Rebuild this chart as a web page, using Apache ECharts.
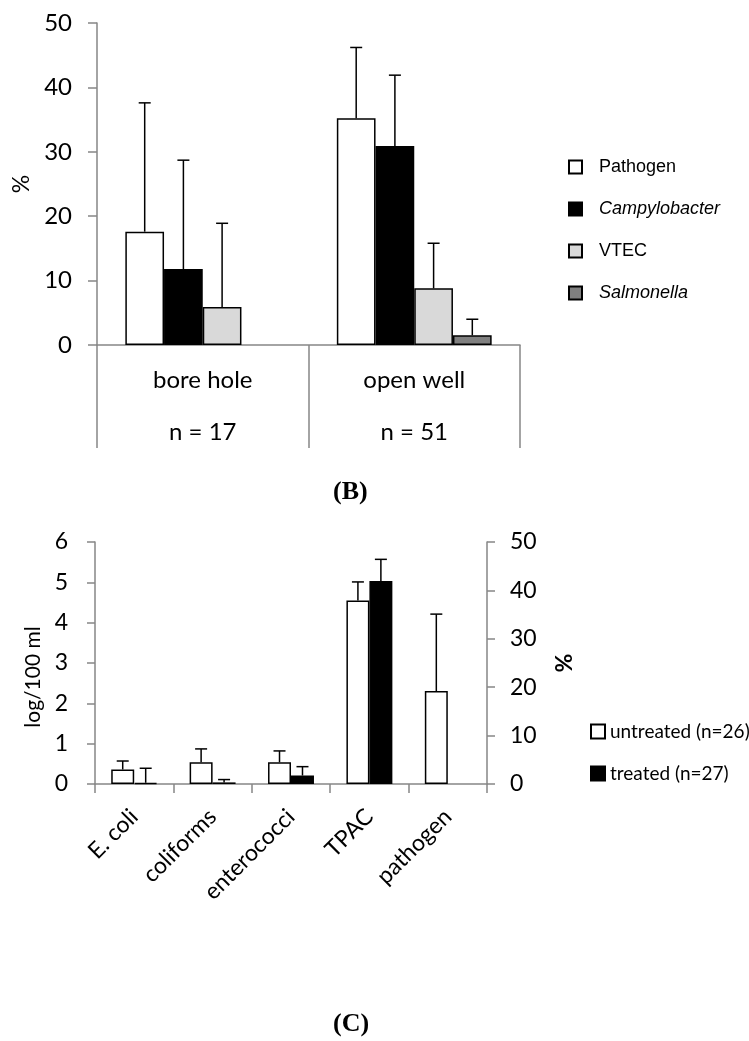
<!DOCTYPE html>
<html>
<head>
<meta charset="utf-8">
<script src="https://cdn.jsdelivr.net/npm/echarts@6/dist/echarts.min.js"></script>
<style>
html,body{margin:0;padding:0;background:#fff;}
#c{width:749px;height:1041px;}
</style>
</head>
<body>
<div id="c"></div>
<script>
// ---- Panel B data ----
const srcCategories = ['bore hole', 'open well'];
const srcSampleSizes = ['n = 17', 'n = 51'];
const pathogenPct = [17.6, 35.2];
const pathogenUpper = [37.6, 46.2];
const campyPct = [11.8, 30.9];
const campyUpper = [28.7, 41.9];
const vtecPct = [5.9, 8.8];
const vtecUpper = [18.9, 15.8];
const salmPct = [null, 1.5];
const salmUpper = [null, 4.0];

// ---- Panel C data ----
const indCategories = ['E. coli', 'coliforms', 'enterococci', 'TPAC', 'pathogen'];
const untreatedLog = [0.36, 0.54, 0.54, 4.55, null];
const untreatedUpper = [0.57, 0.87, 0.82, 5.01, null];
const treatedLog = [0.03, 0.04, 0.21, 5.03, null];
const treatedUpper = [0.39, 0.11, 0.43, 5.57, null];
const pathogenUntreatedPct = [null, null, null, null, 19.2];
const pathogenUntreatedUpper = [null, null, null, null, 35.1];

const AX = '#868686';
const SANS = 'Lato';
const TOP_FRAC = 0.183;
const BOT_FRAC = 0.293;

function errSeries(xi, yi, vals, ups, slot, nSlots, frac) {
  const data = [];
  vals.forEach((v, i) => { if (v != null && ups[i] != null) data.push([i, v, ups[i]]); });
  return {
    type: 'custom', xAxisIndex: xi, yAxisIndex: yi, z: 5, silent: true,
    encode: { x: 0, y: [1, 2] },
    data: data,
    renderItem: function (params, api) {
      const i = api.value(0);
      const p0 = api.coord([i, api.value(1)]);
      const p1 = api.coord([i, api.value(2)]);
      const band = api.size([1, 0])[0];
      const x = p0[0] + (slot - (nSlots - 1) / 2) * band * frac;
      const st = { stroke: '#000', lineWidth: 1.5 };
      return {
        type: 'group', children: [
          { type: 'line', shape: { x1: x, y1: p0[1], x2: x, y2: p1[1] }, style: st },
          { type: 'line', shape: { x1: x - 6, y1: p1[1], x2: x + 6, y2: p1[1] }, style: st }
        ]
      };
    }
  };
}

function barS(name, xi, yi, data, color, frac) {
  return {
    name: name, type: 'bar', xAxisIndex: xi, yAxisIndex: yi, data: data,
    barWidth: (frac * 100) + '%', barGap: '0%',
    itemStyle: { color: color, borderColor: '#000', borderWidth: 1.5 },
    emphasis: { disabled: true }
  };
}

const chart = echarts.init(document.getElementById('c'));
const option = {
  animation: false,
  backgroundColor: '#fff',
  grid: [
    { left: 97, right: 229, top: 23, bottom: 696 },
    { left: 95, right: 262, top: 542, bottom: 257 }
  ],
  xAxis: [
    {
      type: 'category', gridIndex: 0, data: srcCategories.map((c, i) => c + '\n' + srcSampleSizes[i]),
      axisLine: { lineStyle: { color: AX, width: 1.5 } },
      axisTick: { show: true, alignWithLabel: false, interval: 0, length: 103, lineStyle: { color: AX, width: 1.5 } },
      axisLabel: { color: '#000', fontFamily: SANS, fontSize: 24, lineHeight: 52, margin: 9 }
    },
    {
      type: 'category', gridIndex: 1, data: indCategories,
      axisLine: { lineStyle: { color: AX, width: 1.5 } },
      axisTick: { show: true, alignWithLabel: false, interval: 0, length: 9, lineStyle: { color: AX, width: 1.5 } },
      axisLabel: { color: '#000', fontFamily: SANS, fontSize: 23, rotate: 45, margin: 29, interval: 0 }
    },
    {
      type: 'category', gridIndex: 1, data: indCategories, show: false
    }
  ],
  yAxis: [
    {
      type: 'value', gridIndex: 0, min: 0, max: 50, interval: 10,
      name: '%', nameLocation: 'middle', nameGap: 62, nameRotate: 90,
      nameTextStyle: { color: '#000', fontFamily: SANS, fontSize: 23 },
      axisLine: { show: true, lineStyle: { color: AX, width: 1.5 } },
      axisTick: { show: true, length: 9, lineStyle: { color: AX, width: 1.5 } },
      splitLine: { show: false },
      axisLabel: { color: '#000', fontFamily: SANS, fontSize: 24, margin: 25 }
    },
    {
      type: 'value', gridIndex: 1, min: 0, max: 6, interval: 1,
      name: 'log/100 ml', nameLocation: 'middle', nameGap: 50, nameRotate: 90,
      nameTextStyle: { color: '#000', fontFamily: SANS, fontSize: 21, padding: [0, 28, 0, 0] },
      axisLine: { show: true, lineStyle: { color: AX, width: 1.5 } },
      axisTick: { show: true, length: 8, lineStyle: { color: AX, width: 1.5 } },
      splitLine: { show: false },
      axisLabel: { color: '#000', fontFamily: SANS, fontSize: 23, margin: 27 }
    },
    {
      type: 'value', gridIndex: 1, position: 'right', min: 0, max: 50, interval: 10,
      name: '%', nameLocation: 'middle', nameGap: 66, nameRotate: 90,
      nameTextStyle: { color: '#000', fontFamily: SANS, fontSize: 23, fontWeight: 'bold' },
      axisLine: { show: true, lineStyle: { color: AX, width: 1.5 } },
      axisTick: { show: true, length: 8, lineStyle: { color: AX, width: 1.5 } },
      splitLine: { show: false },
      axisLabel: { color: '#000', fontFamily: SANS, fontSize: 23, margin: 23 }
    }
  ],
  legend: [
    {
      orient: 'vertical', left: 563, top: 153, itemWidth: 13, itemHeight: 13, itemGap: 24,
      icon: 'rect', selectedMode: false,
      textStyle: { color: '#000', fontFamily: 'Liberation Sans', fontSize: 18, padding: [0, 0, 0, 12], lineHeight: 13 },
      data: [
        { name: 'Pathogen' },
        { name: 'Campylobacter', textStyle: { fontStyle: 'italic' } },
        { name: 'VTEC' },
        { name: 'Salmonella', textStyle: { fontStyle: 'italic' } }
      ]
    },
    {
      orient: 'vertical', left: 585, top: 717, itemWidth: 14, itemHeight: 14, itemGap: 23,
      icon: 'rect', selectedMode: false,
      textStyle: { color: '#000', fontFamily: SANS, fontSize: 19, lineHeight: 14 },
      data: ['untreated (n=26)', 'treated (n=27)']
    }
  ],
  graphic: [
    { type: 'text', left: 333, top: 479, style: { text: '(B)', font: 'bold 26px "Liberation Serif"', fill: '#000' } },
    { type: 'text', left: 333, top: 1011, style: { text: '(C)', font: 'bold 26px "Liberation Serif"', fill: '#000' } }
  ],
  series: [
    barS('Pathogen', 0, 0, pathogenPct, '#ffffff', TOP_FRAC),
    barS('Campylobacter', 0, 0, campyPct, '#000000', TOP_FRAC),
    barS('VTEC', 0, 0, vtecPct, '#d9d9d9', TOP_FRAC),
    barS('Salmonella', 0, 0, salmPct, '#808080', TOP_FRAC),
    errSeries(0, 0, pathogenPct, pathogenUpper, 0, 4, TOP_FRAC),
    errSeries(0, 0, campyPct, campyUpper, 1, 4, TOP_FRAC),
    errSeries(0, 0, vtecPct, vtecUpper, 2, 4, TOP_FRAC),
    errSeries(0, 0, salmPct, salmUpper, 3, 4, TOP_FRAC),

    barS('untreated (n=26)', 1, 1, untreatedLog, '#ffffff', BOT_FRAC),
    barS('treated (n=27)', 1, 1, treatedLog, '#000000', BOT_FRAC),
    barS('untreated (n=26)', 2, 2, pathogenUntreatedPct, '#ffffff', BOT_FRAC),
    barS('treated (n=27)', 2, 2, [null, null, null, null, null], '#000000', BOT_FRAC),
    errSeries(1, 1, untreatedLog, untreatedUpper, 0, 2, BOT_FRAC),
    errSeries(1, 1, treatedLog, treatedUpper, 1, 2, BOT_FRAC),
    errSeries(2, 2, pathogenUntreatedPct, pathogenUntreatedUpper, 0, 2, BOT_FRAC)
  ]
};
chart.setOption(option);
</script>
</body>
</html>
